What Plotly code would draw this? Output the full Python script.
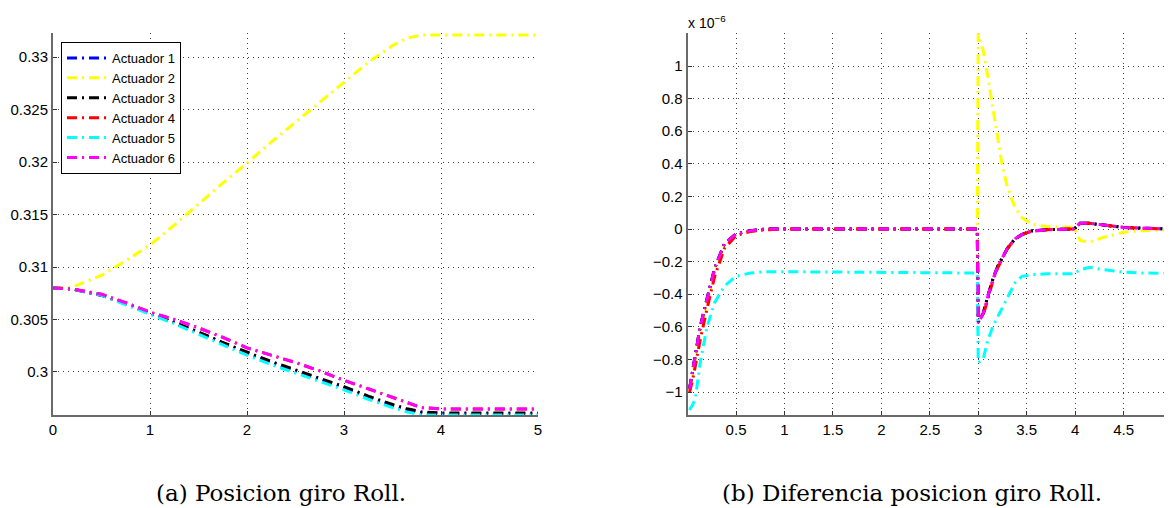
import plotly.graph_objects as go

# ---------------- data ----------------
names = ["Actuador 1", "Actuador 2", "Actuador 3", "Actuador 4", "Actuador 5", "Actuador 6"]
colors = ["#0000FF", "#FFFF00", "#000000", "#FF0000", "#00FFFF", "#FF00FF"]

# (a) position of each actuator
t_pos = [0, 0.2, 0.5, 0.75, 1, 1.25, 1.5, 1.75, 2, 2.25, 2.5, 2.75, 3, 3.25, 3.5, 3.65, 3.8, 4, 4.5, 5]
pos_a1 = [0.3080, 0.3079, 0.3073, 0.3065, 0.3056, 0.3047, 0.3038, 0.3028, 0.3018, 0.3009, 0.3001, 0.2993,
          0.2985, 0.2976, 0.2968, 0.2964, 0.2961, 0.2960, 0.2960, 0.2960]
pos_a2 = [0.3080, 0.3081, 0.3092, 0.3106, 0.3121, 0.3140, 0.3160, 0.3180, 0.3199, 0.3219, 0.3238, 0.3257,
          0.3276, 0.3295, 0.3311, 0.3318, 0.3321, 0.3321, 0.3321, 0.3321]
pos_a3 = [0.3080, 0.3079, 0.3073, 0.3065, 0.3056, 0.3047, 0.3038, 0.3028, 0.3019, 0.3010, 0.3002, 0.2994,
          0.2986, 0.2977, 0.2969, 0.2965, 0.2962, 0.2961, 0.2961, 0.2961]
pos_a4 = [0.3080, 0.3079, 0.3074, 0.3066, 0.3057, 0.3050, 0.3042, 0.3033, 0.3023, 0.3016, 0.3009, 0.3001,
          0.2992, 0.2984, 0.2976, 0.2971, 0.2966, 0.29648, 0.29648, 0.29648]
pos_a5 = [0.3080, 0.3079, 0.3073, 0.3064, 0.3055, 0.3046, 0.3036, 0.3026, 0.3016, 0.3007, 0.2999, 0.2991,
          0.2983, 0.2974, 0.2966, 0.2962, 0.2959, 0.2959, 0.2959, 0.2959]
pos_a6 = [0.3080, 0.3079, 0.3074, 0.3066, 0.3057, 0.3050, 0.3042, 0.3033, 0.3023, 0.3016, 0.3009, 0.3001,
          0.2992, 0.2984, 0.2976, 0.2971, 0.2966, 0.29648, 0.29648, 0.29648]

# (b) position difference (units of 1e-6)
t_dif = [0.02, 0.05, 0.08, 0.13, 0.2, 0.28, 0.38, 0.5, 0.65, 0.8, 1.0, 2.0, 2.99, 3.0, 3.05, 3.1, 3.15, 3.2,
         3.25, 3.3, 3.38, 3.45, 3.55, 3.7, 3.99, 4.05, 4.15, 4.3, 4.5, 4.7, 5.0]
dif_a1 = [-0.98, -0.88, -0.77, -0.60, -0.43, -0.24, -0.09, -0.03, -0.01, 0.0, 0.0, 0.0, 0.0, -0.57, -0.52,
          -0.41, -0.31, -0.23, -0.17, -0.12, -0.06, -0.035, -0.012, -0.004, 0.0, 0.035, 0.035, 0.025, 0.01, 0.005, 0.0]
dif_a2 = [-0.99, -0.90, -0.80, -0.64, -0.46, -0.26, -0.10, -0.035, -0.015, -0.005, 0.0, 0.0, 0.0, 1.20, 1.10,
          0.93, 0.75, 0.55, 0.38, 0.26, 0.13, 0.07, 0.03, 0.015, 0.01, -0.07, -0.08, -0.05, -0.02, -0.01, -0.005]
dif_a3 = [-0.98, -0.88, -0.77, -0.60, -0.43, -0.24, -0.09, -0.03, -0.01, 0.0, 0.0, 0.0, 0.0, -0.57, -0.52,
          -0.41, -0.31, -0.23, -0.17, -0.12, -0.06, -0.035, -0.012, -0.004, 0.0, 0.035, 0.035, 0.025, 0.01, 0.005, 0.0]
dif_a4 = [-1.00, -0.93, -0.84, -0.68, -0.49, -0.29, -0.12, -0.04, -0.015, -0.005, 0.0, 0.0, 0.0, -0.55, -0.53,
          -0.43, -0.32, -0.24, -0.18, -0.12, -0.06, -0.035, -0.012, -0.004, 0.0, 0.035, 0.035, 0.025, 0.01, 0.005, 0.0]
dif_a5 = [-1.11, -1.08, -1.04, -0.82, -0.60, -0.45, -0.35, -0.29, -0.27, -0.262, -0.262, -0.265, -0.27, -0.82,
          -0.80, -0.68, -0.60, -0.54, -0.48, -0.42, -0.33, -0.29, -0.28, -0.275, -0.275, -0.25, -0.235, -0.25,
          -0.265, -0.27, -0.272]
dif_a6 = [-0.98, -0.88, -0.77, -0.60, -0.43, -0.24, -0.09, -0.03, -0.01, 0.0, 0.0, 0.0, 0.0, -0.58, -0.52,
          -0.41, -0.31, -0.23, -0.17, -0.12, -0.06, -0.035, -0.015, -0.005, 0.0, 0.035, 0.035, 0.025, 0.01, 0.005, 0.0]

pos_series = [pos_a1, pos_a2, pos_a3, pos_a4, pos_a5, pos_a6]
dif_series = [dif_a1, dif_a2, dif_a3, dif_a4, dif_a5, dif_a6]

x_ticks_a = [0, 1, 2, 3, 4, 5]
y_ticks_a = [0.3, 0.305, 0.31, 0.315, 0.32, 0.325, 0.33]
y_ticktext_a = ["0.3", "0.305", "0.31", "0.315", "0.32", "0.325", "0.33"]
x_ticks_b = [0.5, 1, 1.5, 2, 2.5, 3, 3.5, 4, 4.5]
y_ticks_b = [-1, -0.8, -0.6, -0.4, -0.2, 0, 0.2, 0.4, 0.6, 0.8, 1]

caption_a = "(a) Posicion giro Roll."
caption_b = "(b) Diferencia posicion giro Roll."

# ---------------- figure ----------------
# The page body has an 8px margin, so the figure is sized to fill the rest of the window
OFF = 8
W, H = 1172 - OFF, 508 - OFF


def fx(px):
    return (px - OFF) / W


def fy(py):
    return 1 - (py - OFF) / H


DASH = "10px,5px,2px,5px"

fig = go.Figure()
for i in range(6):
    fig.add_trace(go.Scatter(x=t_pos, y=pos_series[i], mode="lines", name=names[i],
                             line=dict(color=colors[i], width=3, dash=DASH),
                             xaxis="x", yaxis="y", showlegend=True))
for i in range(6):
    fig.add_trace(go.Scatter(x=t_dif, y=dif_series[i], mode="lines", name=names[i],
                             line=dict(color=colors[i], width=3, dash=DASH),
                             xaxis="x2", yaxis="y2", showlegend=False))

tick_font = dict(family="Liberation Sans, Arial, sans-serif", size=15, color="black")
axis_common = dict(showgrid=True, gridcolor="#404040", griddash="1px,4px", gridwidth=1,
                   zeroline=False, showline=True, linecolor="#6a6a6a", linewidth=2,
                   ticks="inside", ticklen=4, tickwidth=1, tickcolor="#333333",
                   tickfont=tick_font, automargin=False, mirror=False)

yd = [fy(415), fy(33)]
fig.update_layout(
    width=W, height=H,
    margin=dict(l=0, r=0, t=0, b=0),
    paper_bgcolor="white", plot_bgcolor="white",
    xaxis=dict(domain=[fx(53), fx(538)], range=[0, 5], tickmode="array", tickvals=x_ticks_a,
               anchor="y", **axis_common),
    yaxis=dict(domain=yd, range=[0.2959, 0.3323], tickmode="array", tickvals=y_ticks_a,
               ticktext=y_ticktext_a, anchor="x", **axis_common),
    xaxis2=dict(domain=[fx(687.6), 1.0], range=[0, 5], tickmode="array", tickvals=x_ticks_b,
                anchor="y2", **axis_common),
    yaxis2=dict(domain=yd, range=[-1.141, 1.2025], tickmode="array", tickvals=y_ticks_b,
                anchor="x2", **axis_common),
    legend=dict(x=fx(61), y=fy(42), xanchor="left", yanchor="top",
                bgcolor="white", bordercolor="black", borderwidth=1,
                font=dict(family="Liberation Sans, Arial, sans-serif", size=13, color="black"),
                tracegroupgap=0, itemwidth=40),
    showlegend=True,
)

fig.add_annotation(xref="paper", yref="paper", x=fx(686), y=fy(22), xanchor="left", yanchor="middle",
                   text="x 10<sup>\u22126</sup>", showarrow=False,
                   font=dict(family="Liberation Sans, Arial, sans-serif", size=14, color="black"))
fig.add_annotation(xref="paper", yref="paper", x=fx(281), y=fy(493), xanchor="center", yanchor="middle",
                   text=caption_a, showarrow=False,
                   font=dict(family="DejaVu Serif, serif", size=23, color="black"))
fig.add_annotation(xref="paper", yref="paper", x=fx(912), y=fy(493), xanchor="center", yanchor="middle",
                   text=caption_b, showarrow=False,
                   font=dict(family="DejaVu Serif, serif", size=23, color="black"))

fig.write_html("out.html")
